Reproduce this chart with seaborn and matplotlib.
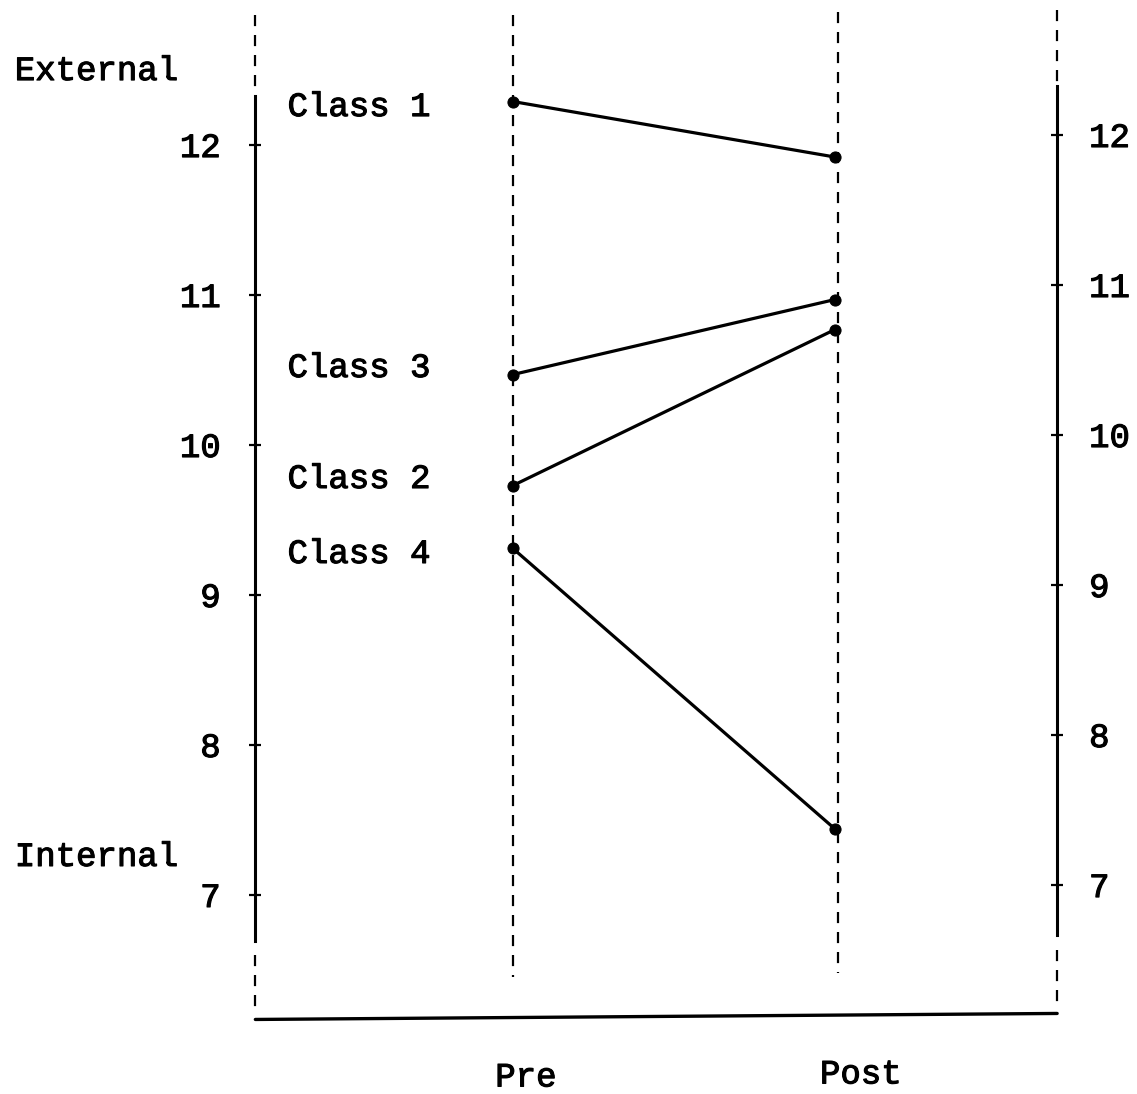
import matplotlib
matplotlib.use('Agg')
import matplotlib.pyplot as plt
import matplotlib.patheffects as pe
import numpy as np
import pandas as pd
import seaborn as sns

sns.set_style('white')
plt.rcParams['font.family'] = ['Liberation Mono', 'DejaVu Sans Mono']
plt.rcParams['text.color'] = 'black'
plt.rcParams['ytick.color'] = 'black'
plt.rcParams['axes.edgecolor'] = 'black'

# values
classes = ['Class 1', 'Class 3', 'Class 2', 'Class 4']
pre = [12.29, 10.47, 9.73, 9.31]
post = [11.92, 10.97, 10.77, 7.44]
phases = ['Pre', 'Post']
label_y = [12.25, 10.51, 9.77, 9.27]
ticks = [7, 8, 9, 10, 11, 12]

rows = []
for c, a, b in zip(classes, pre, post):
    rows.append({'cls': c, 'phase': 'Pre', 'value': a})
    rows.append({'cls': c, 'phase': 'Post', 'value': b})
df = pd.DataFrame(rows)
df['x'] = df['phase'].map({p: i for i, p in enumerate(phases)})

fig = plt.figure(figsize=(11.37, 10.94), dpi=100)
ax = fig.add_axes([0, 0, 1, 1])
ax.set_xlim(-1.593, 1.938)
ax.set_ylim(5.673, 12.967)

LEFT_X = -0.80
RIGHT_X = 1.69
FS = 24.5
# thicken the thin mono strokes a bit, like the typewriter scan
ink = [pe.withStroke(linewidth=0.8, foreground='black')]

sns.lineplot(data=df, x='x', y='value', units='cls', estimator=None,
             color='black', lw=2.3, marker='o', markersize=8,
             markeredgecolor='black', ax=ax, legend=False)

# left axis as a spine
for s in ['top', 'right', 'bottom']:
    ax.spines[s].set_visible(False)
ax.spines['left'].set_position(('data', LEFT_X))
ax.spines['left'].set_bounds(6.69, 12.33)
ax.spines['left'].set_linewidth(2.2)
ax.set_yticks(ticks)
ax.set_yticklabels([str(t) for t in ticks])
ax.tick_params(axis='y', direction='inout', length=8, width=1.6,
               pad=21, labelsize=FS, colors='black')
ax.set_xticks([])
ax.set_xlabel('')
ax.set_ylabel('')

# right axis, scan is slightly skewed
ax2 = ax.twinx()
ax2.set_ylim(5.607, 12.9)
for s in ['top', 'left', 'bottom']:
    ax2.spines[s].set_visible(False)
ax2.spines['right'].set_position(('data', RIGHT_X))
ax2.spines['right'].set_bounds(6.67, 12.33)
ax2.spines['right'].set_linewidth(2.2)
ax2.set_yticks(ticks)
ax2.set_yticklabels([str(t) for t in ticks])
ax2.tick_params(axis='y', direction='inout', length=8, width=1.6,
                pad=19, labelsize=FS, colors='black')

for lab in ax.get_yticklabels() + ax2.get_yticklabels():
    lab.set_path_effects(ink)

dash = dict(color='black', lw=1.6, ls=(0, (5, 4)))
ax.plot([LEFT_X, LEFT_X], [12.87, 12.38], **dash)
ax.plot([LEFT_X, LEFT_X], [6.60, 6.20], **dash)
ax.plot([0, 0], [12.87, 6.45], **dash)
ax.plot([1.01, 1.01], [12.89, 6.48], **dash)
ax.plot([RIGHT_X, RIGHT_X], [12.90, 12.42], **dash)
ax.plot([RIGHT_X, RIGHT_X], [6.63, 6.23], **dash)
ax.plot([LEFT_X, RIGHT_X], [6.17, 6.21], color='black', lw=2.4)

for c, y in zip(classes, label_y):
    ax.text(-0.70, y, c, fontsize=FS, ha='left', va='center', path_effects=ink)

ax.text(-1.547, 12.49, 'External', fontsize=FS, ha='left', va='center', path_effects=ink)
ax.text(-1.547, 7.25, 'Internal', fontsize=FS, ha='left', va='center', path_effects=ink)
ax.text(0.04, 5.78, 'Pre', fontsize=FS, ha='center', va='center', path_effects=ink)
ax.text(1.08, 5.80, 'Post', fontsize=FS, ha='center', va='center', path_effects=ink)

fig.savefig('out.png', dpi=100)
